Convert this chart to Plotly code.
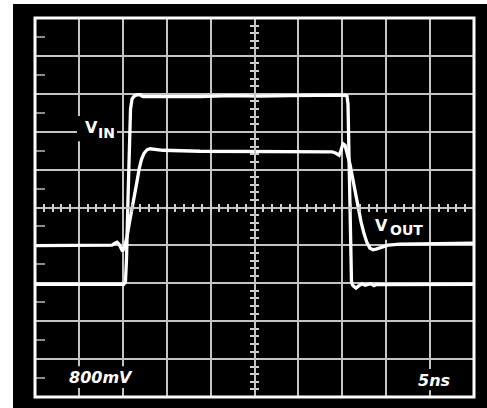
import plotly.graph_objects as go

# ---- data (time in ns, voltage in V; 5 ns/div, 800 mV/div) ----
t_in = [0, 10.1, 10.3, 10.42, 10.59, 10.76, 10.88, 11.05, 11.28, 11.62,
        11.96, 12.3, 13.1, 15.4, 18.8, 22.2, 25.6, 29.0, 32.5, 34.7,
        35.3, 35.54, 35.65, 35.77, 35.88, 35.94, 36.05, 36.22, 36.56, 36.9,
        37.25, 37.59, 37.93, 38.27, 38.61, 38.95, 39.3, 50]
v_in = [-1.62, -1.62, -1.57, -1.10, 0.17, 1.44, 2.08, 2.29, 2.35, 2.38,
        2.38, 2.34, 2.34, 2.35, 2.34, 2.36, 2.35, 2.36, 2.36, 2.37,
        2.37, 2.35, 2.18, 1.02, -0.47, -1.31, -1.59, -1.65, -1.70, -1.65,
        -1.61, -1.64, -1.63, -1.61, -1.65, -1.62, -1.63, -1.62]

t_out = [0, 2.85, 6.26, 8.77, 9.11, 9.34, 9.57, 9.80, 9.97, 10.14,
         10.48, 10.82, 11.16, 11.39, 11.62, 11.85, 12.13, 12.42, 12.76, 13.10,
         13.67, 14.58, 18.79, 23.35, 27.90, 32.46, 33.83, 34.28, 34.63, 34.85,
         35.08, 35.31, 35.60, 35.88, 36.16, 36.45, 36.79, 37.13, 37.47, 37.81,
         38.15, 38.50, 38.84, 39.41, 40.21, 41.57, 44.99, 50]
v_out = [-0.805, -0.805, -0.795, -0.795, -0.752, -0.731, -0.773, -0.869, -0.922, -0.869,
         -0.615, -0.254, 0.064, 0.275, 0.551, 0.805, 1.017, 1.144, 1.218, 1.240,
         1.229, 1.208, 1.187, 1.187, 1.176, 1.176, 1.176, 1.144, 1.102, 1.208,
         1.346, 1.314, 1.123, 0.911, 0.636, 0.360, 0.0, -0.297, -0.551, -0.742,
         -0.858, -0.890, -0.879, -0.837, -0.795, -0.773, -0.763, -0.752]

T_RANGE = [0, 50]
V_RANGE = [-4, 4]
T_DIV = 5
V_DIV = 0.8

GRID = "#c4c4c4"
TICK = "#d0d0d0"
FONT = "DejaVu Sans"

fig = go.Figure()
fig.add_trace(go.Scatter(x=t_in, y=v_in, mode="lines", name="VIN",
                         line=dict(color="white", width=3.3), hoverinfo="skip"))
fig.add_trace(go.Scatter(x=t_out, y=v_out, mode="lines", name="VOUT",
                         line=dict(color="white", width=3.3), hoverinfo="skip"))
# empty traces to bind the overlay axes used for graticule ticks
fig.add_trace(go.Scatter(x=[], y=[], xaxis="x2", yaxis="y2", hoverinfo="skip"))
fig.add_trace(go.Scatter(x=[], y=[], xaxis="x", yaxis="y3", hoverinfo="skip"))

minor_x = dict(dtick=T_DIV / 5, ticklen=3.5, tickwidth=1.5, tickcolor=TICK, showgrid=False)
minor_y = dict(dtick=V_DIV / 5, ticklen=3.5, tickwidth=1.5, tickcolor=TICK, showgrid=False)

fig.update_layout(
    width=487, height=408, autosize=False,
    margin=dict(l=35, r=13, t=18, b=11, pad=0),
    paper_bgcolor="white", plot_bgcolor="black",
    showlegend=False,
    xaxis=dict(range=T_RANGE, dtick=T_DIV, tick0=0, showgrid=True, gridcolor=GRID, gridwidth=1.5,
               zeroline=False, showticklabels=False, anchor="free", position=0.5,
               showline=True, linecolor=GRID, linewidth=1.5,
               ticks="outside", ticklen=3.5, tickwidth=1.5, tickcolor=TICK,
               minor=dict(ticks="outside", **minor_x), fixedrange=True),
    xaxis2=dict(range=T_RANGE, dtick=T_DIV, tick0=0, overlaying="x", showgrid=False,
                zeroline=False, showticklabels=False, anchor="free", position=0.5,
                ticks="inside", ticklen=3.5, tickwidth=1.5, tickcolor=TICK,
                minor=dict(ticks="inside", **minor_x), fixedrange=True),
    yaxis=dict(range=V_RANGE, dtick=V_DIV, tick0=0, showgrid=True, gridcolor=GRID, gridwidth=1.5,
               zeroline=False, showticklabels=False, anchor="free", position=0.5,
               showline=True, linecolor=GRID, linewidth=1.5,
               ticks="outside", ticklen=3.5, tickwidth=1.5, tickcolor=TICK,
               minor=dict(ticks="outside", **minor_y), fixedrange=True),
    yaxis2=dict(range=V_RANGE, dtick=V_DIV, tick0=0, overlaying="y", showgrid=False,
                zeroline=False, showticklabels=False, anchor="free", position=0.5,
                ticks="inside", ticklen=3.5, tickwidth=1.5, tickcolor=TICK,
                minor=dict(ticks="inside", **minor_y), fixedrange=True),
    yaxis3=dict(range=V_RANGE, dtick=V_DIV, tick0=V_DIV / 2, overlaying="y", showgrid=False,
                zeroline=False, showticklabels=False, anchor="free", position=0,
                ticks="inside", ticklen=9, tickwidth=2, tickcolor="#8c8c8c", fixedrange=True),
)

# outer black panel and white frame
fig.add_shape(type="rect", xref="paper", yref="paper", x0=-0.0501, x1=1.05, y0=-0.06, y1=1.0369,
              fillcolor="black", line=dict(width=0), layer="below")
fig.add_shape(type="rect", xref="paper", yref="paper", x0=0, x1=1, y0=0, y1=1,
              line=dict(color="white", width=3), fillcolor="rgba(0,0,0,0)", layer="above")

# black label backgrounds (cover grid, under traces)
for x0, x1, y0, y1 in [(4.78, 9.34, 1.40, 1.93), (38.73, 44.76, -0.68, -0.11),
                       (3.53, 11.62, -3.81, -3.35), (42.94, 47.72, -3.86, -3.41)]:
    fig.add_shape(type="rect", xref="x", yref="y", x0=x0, x1=x1, y0=y0, y1=y1,
                  fillcolor="black", line=dict(width=0), layer="between")

def label(text, x, y, size):
    fig.add_annotation(text=text, x=x, y=y, xref="x", yref="y", showarrow=False,
                       xanchor="center", yanchor="middle",
                       font=dict(family=FONT, size=size, color="white"))

label("<b>V</b>", 6.41, 1.69, 16)
label("<b>IN</b>", 8.10, 1.57, 14)
label("<b>V</b>", 39.52, -0.38, 16)
label("<b>OUT</b>", 42.31, -0.48, 14)
label("<b><i>800mV</i></b>", 7.57, -3.59, 16)
label("<b><i>5ns</i></b>", 45.41, -3.66, 16)

fig.write_html("out.html", config={"displayModeBar": False},
               post_script="document.body.style.margin='0';")
